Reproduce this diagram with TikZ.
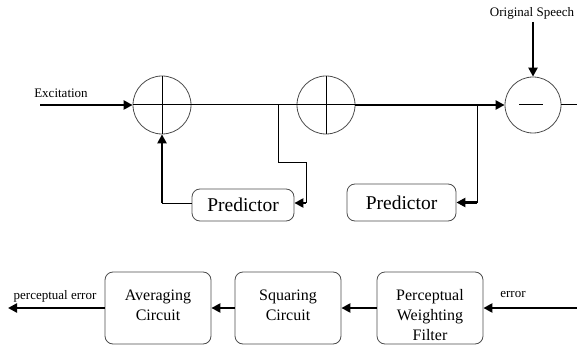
\documentclass[tikz,border=0pt]{standalone}
\usepackage{fontspec}
\setmainfont{Liberation Serif}
\usetikzlibrary{arrows.meta,positioning}

\begin{document}
\begin{tikzpicture}[
    x=1pt, y=-1pt,
    every node/.style={inner sep=0pt},
    summer/.style={circle, draw=black!70, line width=0.8pt, minimum size=58pt},
    block/.style={draw=black!70, line width=0.8pt, rounded corners=8pt},
    blocktext/.style={align=center, font=\fontsize{16}{20}\selectfont},
    predtext/.style={font=\fontsize{19.5}{22}\selectfont},
    smalltext/.style={font=\fontsize{13}{15}\selectfont},
    thinline/.style={line width=1pt},
    heavy/.style={line width=2.6pt, -{Triangle[length=9pt,width=9pt]}}
]

\useasboundingbox (0,0) rectangle (577,347);

% Adders and subtractor
\node[summer] (sumA) at (162,105) {};
\node[summer] (sumB) at (326,105) {};
\node[summer, minimum size=56pt] (diffC) at (533,105) {};
\draw[thinline] (sumA.north) -- (sumA.south) (sumA.west) -- (sumA.east);
\draw[thinline] (sumB.north) -- (sumB.south) (sumB.west) -- (sumB.east);
\draw[thinline] ([xshift=-14pt]diffC.center) -- ([xshift=10pt]diffC.center);

% Predictor blocks
\node[block, predtext, minimum width=102pt, minimum height=32pt] (predA) at (243,205) {Predictor};
\node[block, predtext, minimum width=109pt, minimum height=37pt] (predB) at (401.5,202.5) {Predictor};

% Labels
\node[smalltext] (exclabel) at (61,93) {Excitation};
\node[smalltext] (speechlabel) at (532,13) {Original Speech};
\node[smalltext] (perclabel) at (55,296) {perceptual error};
\node[smalltext] (errlabel) at (513,294) {error};

% Synthesis path
\coordinate (excin) at (40,105);
\draw[heavy] (excin) -- (sumA.west);
\draw[thinline] (sumA.east) -- (sumB.west);

\coordinate (tapA) at (278,105);
\coordinate (bendA) at (306,163);
\coordinate (predAin) at ([yshift=2pt]predA.east);
\coordinate (predAout) at ([yshift=2pt]predA.west);
\draw[thinline] (tapA) -- (tapA |- bendA) -- (bendA) -- (bendA |- predAin);
\draw[heavy] (bendA |- predAin) -- (predAin);
\draw[thinline] (predAout) -- (sumA |- predAout);
\draw[heavy] (sumA |- predAout) -- (sumA.south);

\draw[heavy] (sumB.east) -- (diffC.west);
\coordinate (tapB) at (477,105);
\draw[thinline] (tapB) -- (tapB |- predB.east);
\draw[heavy] (tapB |- predB.east) -- (predB.east);

\coordinate (speechin) at (533,22);
\draw[heavy] (speechin) -- (diffC.north);
\coordinate (diffout) at (577,105);
\draw[thinline] (diffC.east) -- (diffout);

% Error weighting chain
\node[block, minimum width=106pt, minimum height=72pt] (avg) at (158,308) {};
\node[block, minimum width=106pt, minimum height=72pt] (sqr) at (288,308) {};
\node[block, minimum width=106pt, minimum height=72pt] (pwf) at (430,308) {};
\node[blocktext, below=18pt of avg.north] (avgtext) {Averaging\\Circuit};
\node[blocktext, below=18pt of sqr.north] (sqrtext) {Squaring\\Circuit};
\node[blocktext, below=18pt of pwf.north] (pwftext) {Perceptual\\Weighting\\Filter};

\coordinate (errin) at (577,308);
\coordinate (percout) at (8,308);
\draw[heavy] (errin) -- (pwf.east);
\draw[heavy] (pwf.west) -- (sqr.east);
\draw[heavy] (sqr.west) -- (avg.east);
\draw[heavy] (avg.west) -- (percout);

\end{tikzpicture}
\end{document}
